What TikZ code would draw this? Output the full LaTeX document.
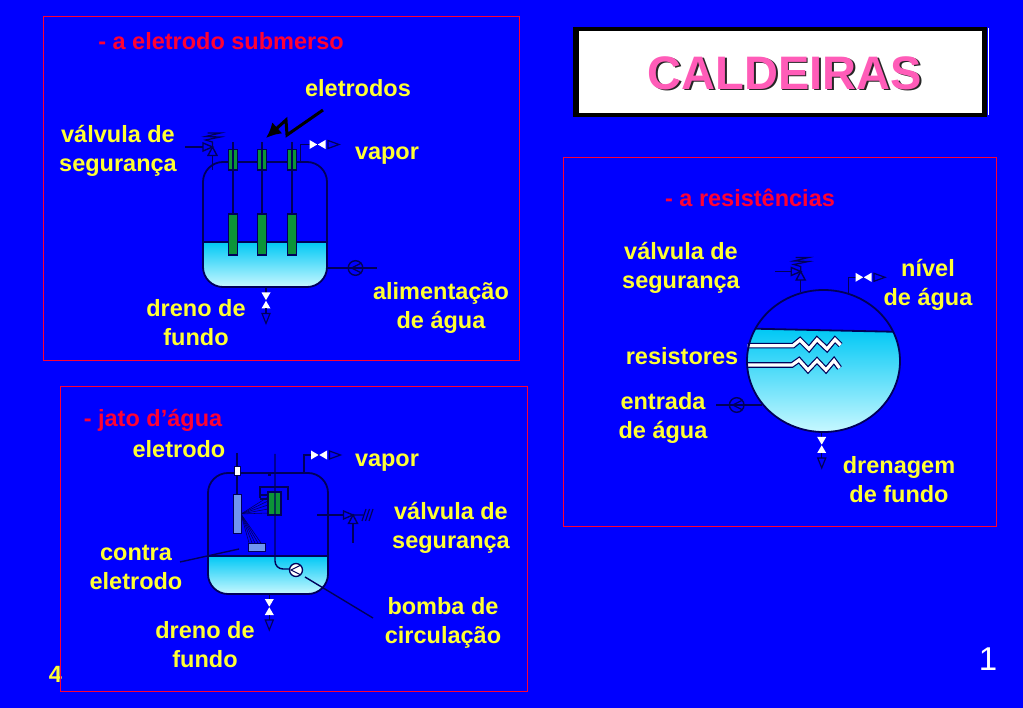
\documentclass[tikz,border=0pt]{standalone}
\usepackage{fontspec}
\setmainfont{Liberation Sans}
\usetikzlibrary{arrows.meta}
\definecolor{bg}{HTML}{0000FF}
\definecolor{ink}{HTML}{00005A}
\definecolor{lab}{HTML}{FFFF33}
\definecolor{redlab}{HTML}{FF0033}
\definecolor{pinkt}{HTML}{FF5CB8}
\definecolor{gr}{HTML}{0C9438}
\definecolor{lb}{HTML}{6F94F0}
\definecolor{wt}{HTML}{00C8F5}
\definecolor{wb}{HTML}{C8F8FF}
\tikzset{
  x=1pt,y=-1pt,
  lbl/.style={font=\fontsize{23.5}{29}\selectfont\bfseries,text=lab,align=center,inner sep=0pt},
  redl/.style={lbl,text=redlab},
  panel/.style={draw=redlab,line width=0.9pt},
  pipe/.style={draw=ink,line width=1.4pt},
  thick pipe/.style={draw=ink,line width=1.8pt},
  elec/.style={fill=gr,draw=ink,line width=1.1pt},
  plate/.style={fill=lb,draw=ink,line width=0.8pt},
  wire/.style={draw=ink,line width=0.55pt},
  bowh/.pic={
    \fill[white] (-8,-4.5)--(-0.3,0)--(-8,4.5)--cycle (8,-4.5)--(0.3,0)--(8,4.5)--cycle;
    \draw[draw=ink,line width=1.2pt,fill=bg] (10.5,-4)--(21.5,0)--(10.5,4)--cycle;},
  bowv/.pic={
    \fill[white] (-4.5,-8)--(0,-0.3)--(4.5,-8)--cycle (-4.5,8)--(0,0.3)--(4.5,8)--cycle;
    \draw[pipe] (0,8)--(0,13);
    \draw[draw=ink,line width=1.2pt,fill=bg] (-4,13)--(0,23)--(4,13)--cycle;},
  safe/.pic={
    \draw[pipe,fill=bg] (-9.5,-4)--(0,0)--(-9.5,4)--cycle;
    \draw[pipe,fill=bg] (0,0)--(4.5,8.5)--(-4.5,8.5)--cycle;},
  springup/.pic={
    \draw[draw=ink,line width=1.2pt] (0,0)--(0,-5)--(-7,-7)--(8,-10)--(-7,-10.5)--(8,-14)--(-5,-14);},
  springright/.pic={
    \draw[draw=ink,line width=1.2pt] (0,0)--(10,0) (9,6)--(13,-6) (12.5,6)--(16.5,-6) (16,6)--(20,-6);},
  pumpl/.pic={
    \draw[draw=ink,line width=1.4pt] (-7,0) circle[radius=7.3];
    \draw[draw=ink,line width=1.2pt] (-1,-5)--(-11,0)--(-1,5);},
}
\begin{document}
\begin{tikzpicture}
\useasboundingbox (0,0) rectangle (1023,708);
\fill[bg] (0,0) rectangle (1023,708);

% panels
\node[lbl,text=lab] (four) at (55.5,674) {4};
\draw[panel] (43,16) rectangle (519,360);
\draw[panel] (60,386) rectangle (527,691);
\draw[panel] (563,157) rectangle (996,526);

% title
\fill[black] (573,27) rectangle (987,117);
\draw[white,line width=0.8pt] (988,28)--(988,115);
\fill[white] (579,31) rectangle (982,113);
\node[font=\fontsize{47}{50}\selectfont\bfseries,text=black!85,inner sep=0pt] at (786.5,74.5) {CALDEIRAS};
\node[font=\fontsize{47}{50}\selectfont\bfseries,text=pinkt,inner sep=0pt] (title) at (785,73) {CALDEIRAS};

%%% Vessel 1
\begin{scope}
  \clip[rounded corners=20pt] (203,162) rectangle (327,287);
  \shade[top color=wt,bottom color=wb] (203,242) rectangle (327,287);
\end{scope}
\draw[thick pipe] (203,242)--(327,242);
\draw[thick pipe,rounded corners=20pt] (203,162) rectangle (327,287);
\foreach \n/\x in {a/233,b/262,c/292}{
  \draw[pipe] (\x,142)--(\x,214);
  \draw[elec] (\x-4.3,149.5) rectangle (\x+4.3,170);
  \draw[pipe] (\x,149.5)--(\x,170);
  \draw[elec] (\x-4.3,214) rectangle (\x+4.3,255);
}
% lightning arrow
\coordinate (ltA) at (323,110);
\coordinate (ltB) at (287,135);
\coordinate (ltC) at (286,120);
\coordinate (ltD) at (266,138);
\draw[black,line width=3pt,-{Latex[length=15pt,width=15pt]}] (ltA)--(ltB)--(ltC)--(ltD);
% safety valve 1
\coordinate (sv1) at (212.5,147);
\coordinate (sv1in) at (185,147);
\coordinate (sv1out) at (212.5,170);
\draw[pipe] (sv1in)--(sv1)--(sv1out);
\pic at (sv1) {safe};
\pic at (sv1) {springup};
% vapour 1
\coordinate (vp1) at (317.5,144.5);
\coordinate (vp1b) at (300.7,162);
\draw[pipe] (vp1b)|-(vp1);
\pic at (vp1) {bowh};
% drain 1
\coordinate (dr1) at (266,300.5);
\coordinate (dr1b) at (266,287);
\draw[pipe] (dr1b)--(dr1);
\pic at (dr1) {bowv};
% feed pump
\coordinate (pm1) at (362.5,268);
\coordinate (pm1a) at (327,268);
\coordinate (pm1b) at (377,268);
\draw[pipe] (pm1a)--(pm1b);
\pic at (pm1) {pumpl};

%%% Vessel 2
\begin{scope}
  \clip[rounded corners=20pt] (208,473) rectangle (328,594);
  \shade[top color=wt,bottom color=wb] (208,556) rectangle (328,594);
\end{scope}
\draw[thick pipe] (208,556)--(328,556);
\draw[thick pipe,rounded corners=20pt] (208,473) rectangle (328,594);
% electrode
\coordinate (e2t) at (237,453);
\coordinate (e2b) at (237,494);
\draw[pipe] (e2t)--(e2b);
\draw[fill=white,draw=ink,line width=0.9pt] (234,466) rectangle (240.5,475);
% fan of jets
\foreach \yy in {497,501,505,509,513}{\draw[wire] (241,514)--(268,\yy);}
\foreach \xx in {249,252,255,258,261}{\draw[wire] (241,514)--(\xx,543);}
\draw[plate] (233,494) rectangle (241,533);
\draw[plate] (248,543) rectangle (265,551);
\draw[elec] (268,492) rectangle (281,515);
\draw[pipe] (260,498)--(260,487)--(288,487)--(288,500);
\draw[draw=ink,line width=1.6pt] (260,495)--(268,495) (260,499)--(268,499);
% circulation pipe
\coordinate (pm2) at (296,570);
\draw[pipe,rounded corners=8pt] (275,454)--(275,569)--(289.5,569);
\draw[draw=ink,line width=1.3pt,fill=white] (pm2) circle[radius=6.5];
\draw[draw=ink,line width=1.1pt] (300,565.5)--(291,570)--(300,574.5);
\draw[pipe] (268,475)--(271,475);
% contra eletrodo leader
\coordinate (ce1) at (180,562);
\coordinate (ce2) at (239,549);
\draw[pipe] (ce1)--(ce2);
% pump leader
\coordinate (pl1) at (305,577);
\coordinate (pl2) at (373,618);
\draw[pipe] (pl1)--(pl2);
% vapour 2
\coordinate (vp2) at (319,455);
\coordinate (vp2b) at (304,473);
\draw[pipe] (vp2b)|-(vp2);
\pic at (vp2) {bowh};
% safety valve 2
\coordinate (sv2) at (353,515);
\coordinate (sv2in) at (317,515);
\coordinate (sv2out) at (353,543);
\draw[pipe] (sv2in)--(sv2)--(sv2out);
\pic at (sv2) {safe};
\pic at (sv2) {springright};
% drain 2
\coordinate (dr2) at (269.3,607);
\coordinate (dr2b) at (269.3,594);
\draw[pipe] (dr2b)--(dr2);
\pic at (dr2) {bowv};

%%% Vessel 3
\begin{scope}
  \clip (823.5,361) ellipse [x radius=76.5,y radius=71];
  \shade[top color=wt,bottom color=wb] (745,328.7)--(900,331.9)--(900,432)--(745,432)--cycle;
\end{scope}
\begin{scope}
  \clip (823.5,361) ellipse [x radius=76.5,y radius=71];
  \draw[thick pipe] (745,328.5)--(900,331.9);
\end{scope}
% heaters
\foreach \c/\w in {ink/5.6,white/3.2}{
  \draw[draw=\c,line width=\w pt,line join=miter] (747.5,345.7)--(793,345.7)--(800,340)--(809,349)--(817,339.5)--(827,349)--(835,339.5)--(840.5,345);
  \draw[draw=\c,line width=\w pt,line join=miter] (747.5,365)--(792,365)--(799,360)--(808,370)--(817,360.5)--(826,370)--(834,360.5)--(839.5,368);
}
\draw[thick pipe] (823.5,361) ellipse [x radius=76.5,y radius=71];
% safety valve 3
\coordinate (sv3) at (800.7,271.5);
\coordinate (sv3in) at (775,271.5);
\coordinate (sv3out) at (800.7,292);
\draw[pipe] (sv3in)--(sv3)--(sv3out);
\pic at (sv3) {safe};
\pic at (sv3) {springup};
% level
\coordinate (vp3) at (863.5,277.3);
\coordinate (vp3b) at (848.3,293);
\draw[pipe] (vp3b)|-(vp3);
\pic at (vp3) {bowh};
% drain 3
\coordinate (dr3) at (821.7,445);
\coordinate (dr3b) at (821.7,432);
\draw[pipe] (dr3b)--(dr3);
\pic at (dr3) {bowv};
% inlet pump
\coordinate (pm3) at (743.7,405);
\coordinate (pm3a) at (716,405);
\coordinate (pm3b) at (762,405);
\draw[pipe] (pm3a)--(pm3b);
\pic at (pm3) {pumpl};

%%% labels
\node[redl] (t1) at (221,41) {- a eletrodo submerso};
\node[lbl] (l1) at (358,88) {eletrodos};
\node[lbl] (l2) at (118,151) {válvula de\\segurança};
\node[lbl] (l3) at (387,156) {vapor};
\node[lbl] (l4) at (196,323) {dreno de\\fundo};
\node[lbl] (l5) at (441,307.5) {alimentação\\de água};

\node[redl] (t2) at (153,420) {- jato d’água};
\node[lbl] (l6) at (179,449) {eletrodo};
\node[lbl] (l7) at (387,463) {vapor};
\node[lbl] (l8) at (451,527.5) {válvula de\\segurança};
\node[lbl] (l9) at (136,567) {contra\\eletrodo};
\node[lbl] (l10) at (443,622.5) {bomba de\\circulação};
\node[lbl] (l11) at (205,645) {dreno de\\fundo};

\node[redl] (t3) at (750,198) {- a resistências};
\node[lbl] (l12) at (681,268) {válvula de\\segurança};
\node[lbl] (l13) at (928,284.5) {nível\\de água};
\node[lbl] (l14) at (682,356) {resistores};
\node[lbl] (l15) at (663,417.5) {entrada\\de água};
\node[lbl] (l16) at (899,480) {drenagem\\de fundo};

\node[font=\fontsize{33}{36}\selectfont,text=white,inner sep=0pt] (pg) at (988,659) {1};
\end{tikzpicture}
\end{document}
